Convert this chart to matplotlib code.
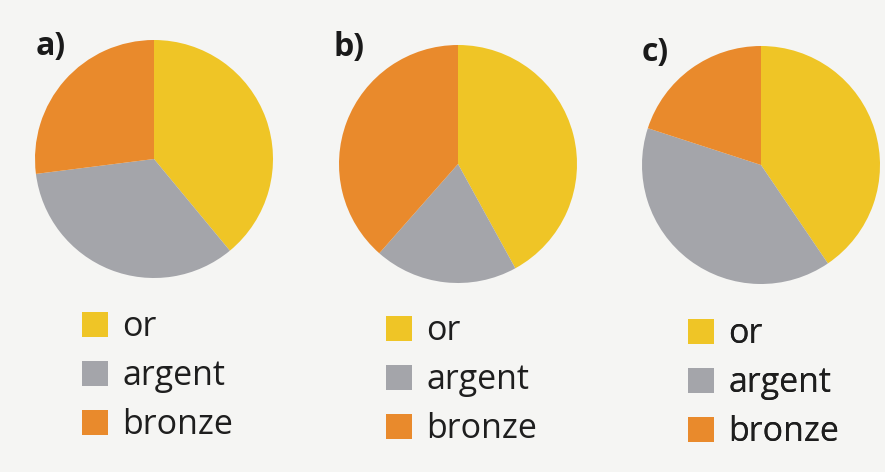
import matplotlib.pyplot as plt

labels = ["or", "argent", "bronze"]
colors = ["#EFC526", "#A4A5AA", "#E98A2C"]
panel_names = ["a)", "b)", "c)"]
shares_a = [39, 34, 27]
shares_b = [42, 19.5, 38.5]
shares_c = [40.5, 39.5, 20]

W, H = 885, 472
plt.rcParams['font.family'] = ['Open Sans', 'DejaVu Sans']

fig = plt.figure(figsize=(W / 100, H / 100), dpi=100)
fig.patch.set_facecolor("#F5F5F3")
ax = fig.add_axes([0, 0, 1, 1])
ax.set_facecolor("#F5F5F3")

# pie centres / radius in pixels (y measured from top)
centres = [(154, 159), (458, 164), (761, 165)]
radius = 119
legend_pos = [(82, 310), (386, 314), (688, 317)]
title_pos = [(36, 55), (333, 56), (642, 61)]

for shares, (cx, cy), (lx, ly), name, (tx, ty) in zip(
        [shares_a, shares_b, shares_c], centres, legend_pos, panel_names, title_pos):
    wedges, _ = ax.pie(shares, colors=colors, startangle=90, counterclock=False,
                       center=(cx, H - cy), radius=radius, frame=True,
                       wedgeprops=dict(linewidth=0))
    leg = ax.legend(wedges, labels, loc="upper left", bbox_to_anchor=(lx, H - ly),
                    bbox_transform=ax.transData, frameon=False, fontsize=24.5,
                    handlelength=0.76, handleheight=0.76, handletextpad=0.42,
                    labelspacing=0.44, borderpad=0, borderaxespad=0)
    for t in leg.get_texts():
        t.set_color("#1E1E1E")
    ax.add_artist(leg)
    ax.text(tx, H - ty, name, fontsize=23, fontweight="bold", color="#1A1A1A",
            ha="left", va="baseline")

ax.set_xlim(0, W)
ax.set_ylim(0, H)
ax.set_aspect("equal")
ax.axis("off")

fig.savefig("out.png", dpi=100, facecolor=fig.get_facecolor())
